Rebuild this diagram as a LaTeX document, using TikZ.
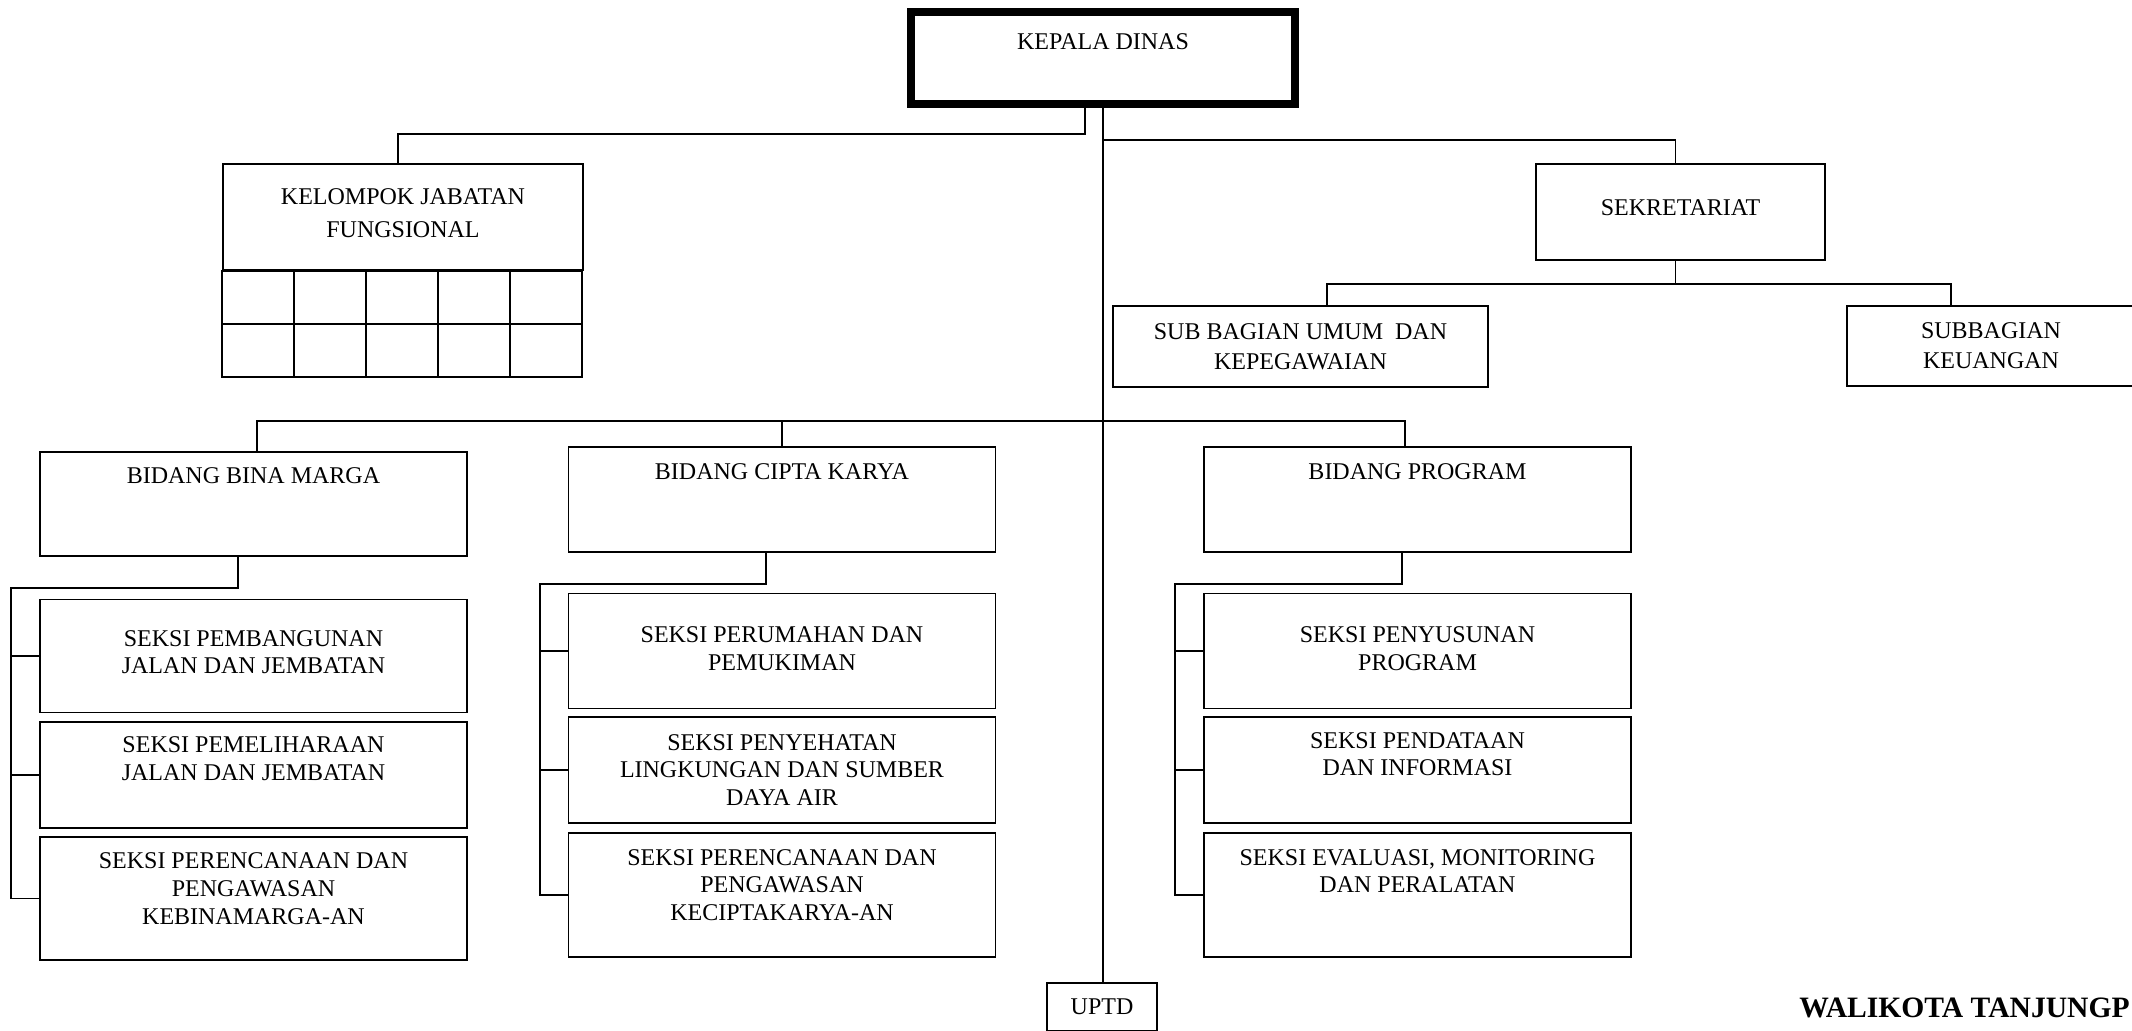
\documentclass[tikz,border=0pt]{standalone}
\usepackage{fontspec}
\setmainfont{Liberation Serif}

\tikzset{
	unit/.style={draw, line width=0.85pt, inner sep=1pt, align=center,
		minimum width=213.5pt, font=\fontsize{12}{13.8}\selectfont},
	lift/.style={text depth=#1},
	link/.style={line width=0.85pt},
}

\begin{document}
\begin{tikzpicture}[x=0.5pt, y=-0.5pt]
	\useasboundingbox (0,0) rectangle (2132,1030);
	% top of the chart
	\node[unit, line width=4pt, minimum width=192pt, minimum height=46pt, lift=16pt] (kepala) at (1103,58) {KEPALA DINAS};
	\node[unit, minimum width=180pt, minimum height=53pt, lift=4pt] (kjf) at (403,217) {KELOMPOK JABATAN\\[2.7pt] FUNGSIONAL};
	\node[unit, minimum width=144.5pt, minimum height=48pt, lift=4pt] (sekre) at (1680.5,212) {SEKRETARIAT};
	\node[unit, minimum width=187.5pt, minimum height=40.5pt] (subumum) at (1300.5,346.5) {SUB BAGIAN UMUM~ DAN\\[1.2pt] KEPEGAWAIAN};
	\node[unit, minimum width=144pt, minimum height=40pt] (subkeu) at (1991,346) {SUBBAGIAN\\[1.2pt] KEUANGAN};
	% empty cells under the functional group
	\foreach \col in {0,...,4}
		\foreach \row in {0,1}
			{\draw[link] (kjf.south west) ++(\col*72,\row*53) rectangle ++(72,53);}
	% the three bidang
	\node[unit, minimum height=52pt, lift=28pt] (bbm) at (253.5,504) {BIDANG BINA MARGA};
	\node[unit, minimum height=52.5pt, lift=27.5pt] (ck) at (782,499.5) {BIDANG CIPTA KARYA};
	\node[unit, minimum height=52.5pt, lift=27.5pt] (bp) at (1417.5,499.5) {BIDANG PROGRAM};
	% seksi under bina marga
	\node[unit, minimum height=56.5pt, lift=4pt] (bbm1) at (253.5,656) {SEKSI PEMBANGUNAN\\ JALAN DAN JEMBATAN};
	\node[unit, minimum height=53pt, lift=16.5pt] (bbm2) at (253.5,775) {SEKSI PEMELIHARAAN\\ JALAN DAN JEMBATAN};
	\node[unit, minimum height=61.5pt, lift=10pt] (bbm3) at (253.5,898.5) {SEKSI PERENCANAAN DAN\\ PENGAWASAN\\ KEBINAMARGA-AN};
	% seksi under cipta karya
	\node[unit, minimum height=57.5pt, lift=2.5pt] (ck1) at (782,651) {SEKSI PERUMAHAN DAN\\ PEMUKIMAN};
	\node[unit, minimum height=53pt] (ck2) at (782,770) {SEKSI PENYEHATAN\\ LINGKUNGAN DAN SUMBER\\ DAYA AIR};
	\node[unit, minimum height=62pt, lift=10pt] (ck3) at (782,895) {SEKSI PERENCANAAN DAN\\ PENGAWASAN\\ KECIPTAKARYA-AN};
	% seksi under program
	\node[unit, minimum height=57.5pt, lift=2.5pt] (bp1) at (1417.5,651) {SEKSI PENYUSUNAN\\ PROGRAM};
	\node[unit, minimum height=53pt, lift=16pt] (bp2) at (1417.5,770) {SEKSI PENDATAAN\\ DAN INFORMASI};
	\node[unit, minimum height=62pt, lift=24pt] (bp3) at (1417.5,895) {SEKSI EVALUASI, MONITORING\\ DAN PERALATAN};
	% bottom
	\node[unit, minimum width=55pt, minimum height=24pt] (uptd) at (1102,1007) {UPTD};
	\node[anchor=base west, inner sep=0pt, font=\bfseries\fontsize{14.8}{17}\selectfont] (walikota) at (1799,1017) {WALIKOTA TANJUNGP};

	% main line and branches
	\draw[link] (kepala.south) -- (kepala.south |- uptd.north);
	\draw[link] ([xshift=-9pt]kepala.south) -- ++(0,26) -| ([xshift=-2.5pt]kjf.north);
	\coordinate (sjoin) at (1103,140);
	\draw[link] (sjoin) -| ([xshift=-2.5pt]sekre.north);
	\draw[link] ([xshift=-2.5pt]sekre.south) -- ++(0,23) coordinate (sbus);
	\draw[link] ([xshift=13.25pt]subumum.north) |- (sbus) -| ([xshift=-20pt]subkeu.north);
	\coordinate (bbus) at (1103,421);
	\draw[link] ([xshift=1.75pt]bbm.north) |- (bbus) -| ([xshift=-6.25pt]bp.north);
	\draw[link] (ck.north) -- (ck.north |- bbus);
	% brackets down to the seksi
	\foreach \bid/\dx/\last in {bbm/-7.75pt/bbm3, ck/-8pt/ck3, bp/-7.75pt/bp3}
		{\draw[link] ([xshift=\dx]\bid.south) -- ++(0,31) -| ([xshift=-14pt]\last.west) -- (\last.west);}
	\foreach \s in {bbm1,bbm2,ck1,ck2,bp1,bp2}
		{\draw[link] ([xshift=-14pt]\s.west) -- (\s.west);}
\end{tikzpicture}
\end{document}
